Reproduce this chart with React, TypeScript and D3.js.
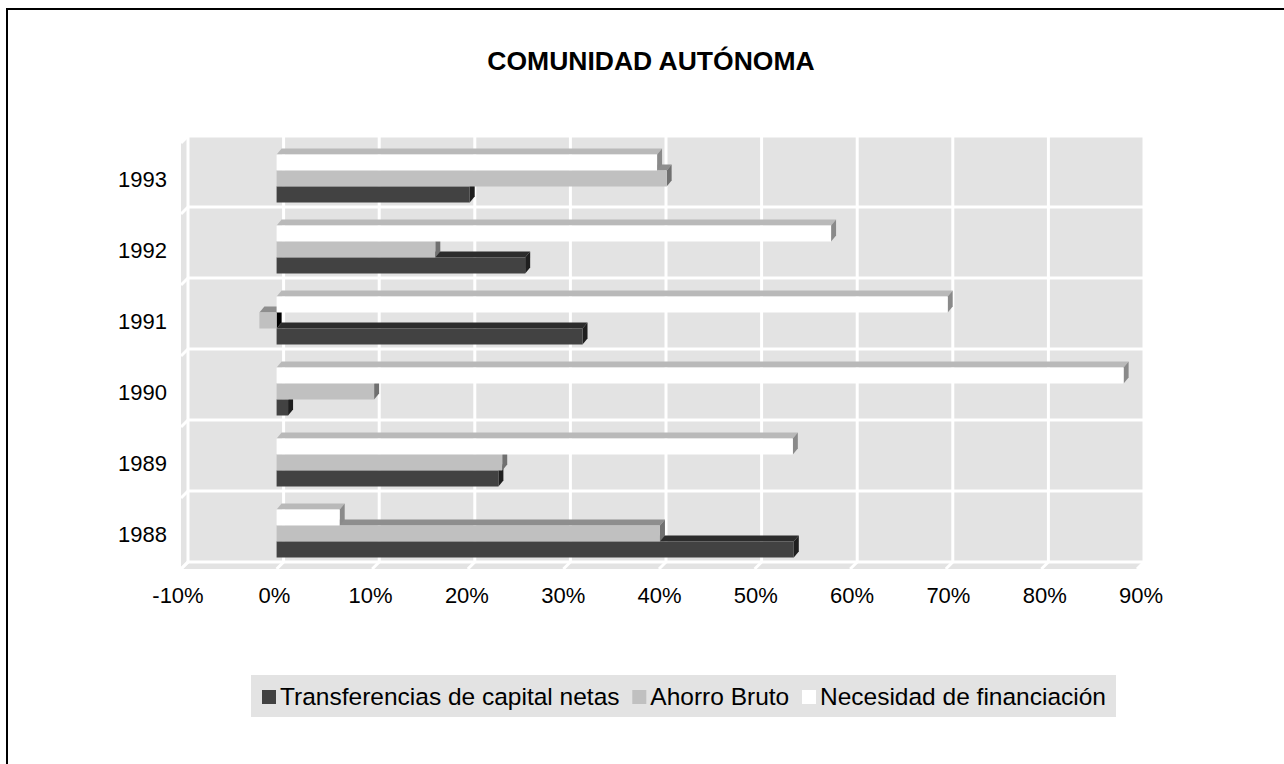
import { useEffect, useRef } from "react"
import * as d3 from "d3"

const categories = ["1988", "1989", "1990", "1991", "1992", "1993"]
const seriesNames = ["Transferencias de capital netas", "Ahorro Bruto", "Necesidad de financiación"]
const transferencias = [54.1, 23.2, 1.2, 32.0, 26.0, 20.2]
const ahorro = [40.1, 23.6, 10.2, -1.8, 16.6, 40.8]
const necesidad = [6.6, 54.0, 88.6, 70.2, 58.0, 39.8]
const tickValues = [-10, 0, 10, 20, 30, 40, 50, 60, 70, 80, 90]
const title = "COMUNIDAD AUTÓNOMA"

// front, top, side colours per series
const palette = [
  { front: "#424242", top: "#2c2c2c", side: "#1f1f1f" },
  { front: "#c0c0c0", top: "#8e8e8e", side: "#707070" },
  { front: "#ffffff", top: "#b9b9b9", side: "#8a8a8a" },
]

const App = () => {
  const svgRef = useRef(null)

  useEffect(() => {
    const width = 1284
    const height = 764
    const svg = d3.select(svgRef.current)
    svg.selectAll("*").remove()
    const font = "'Liberation Sans', Arial, sans-serif"

    const depthX = -7 // back -> front
    const depthY = 7
    const barDX = 5
    const barDY = -6
    const barH = 16

    const xFront = d3.scaleLinear().domain([-10, 90]).range([181, 1137])
    const xBack = (v) => xFront(v) - depthX
    const xLabel = d3.scaleLinear().domain([-10, 90]).range([178, 1141])
    const yFront = d3.scaleBand().domain([...categories].reverse()).range([143, 569])
    const yBack = (c) => yFront(c) - depthY
    const seriesOrder = [2, 1, 0] // top to bottom within a group
    const ySub = d3.scaleBand().domain(seriesOrder.map(String)).range([0, barH * 3])
    const values = [transferencias, ahorro, necesidad]

    svg.append("rect").attr("width", width).attr("height", height).attr("fill", "#fff")
    svg.append("rect").attr("x", 7).attr("y", 9).attr("width", width + 20).attr("height", height + 20)
      .attr("fill", "none").attr("stroke", "#000").attr("stroke-width", 2)

    svg.append("text").attr("x", 651).attr("y", 70).attr("text-anchor", "middle")
      .style("font-family", font).style("font-weight", "bold").style("font-size", "26.5px")
      .text(title)

    const wallTop = yFront.range()[0] - depthY
    const wallBottom = yFront.range()[1] - depthY
    const wallLeft = xBack(-10)
    const wallRight = xBack(90)
    const grid = "#ffffff"
    const wallFill = "#e3e3e3"

    // back wall
    svg.append("rect").attr("x", wallLeft).attr("y", wallTop)
      .attr("width", wallRight - wallLeft).attr("height", wallBottom - wallTop).attr("fill", wallFill)
    // left wall
    svg.append("polygon").attr("points", [
      [wallLeft, wallTop], [wallLeft + depthX, wallTop + depthY],
      [wallLeft + depthX, wallBottom + depthY], [wallLeft, wallBottom]].join(" "))
      .attr("fill", wallFill)
    // floor
    svg.append("polygon").attr("points", [
      [wallLeft, wallBottom], [wallRight, wallBottom],
      [wallRight + depthX, wallBottom + depthY], [wallLeft + depthX, wallBottom + depthY]].join(" "))
      .attr("fill", wallFill)

    // vertical grid on wall + floor
    tickValues.forEach(t => {
      svg.append("line").attr("x1", xBack(t)).attr("x2", xBack(t))
        .attr("y1", wallTop).attr("y2", wallBottom).attr("stroke", grid).attr("stroke-width", 3)
      svg.append("line").attr("x1", xBack(t)).attr("x2", xFront(t))
        .attr("y1", wallBottom).attr("y2", wallBottom + depthY).attr("stroke", grid).attr("stroke-width", 3)
    })
    // horizontal grid on wall + left wall
    const bounds = [...categories.map(c => yBack(c)), wallBottom]
    bounds.forEach(y => {
      svg.append("line").attr("x1", wallLeft).attr("x2", wallRight)
        .attr("y1", y).attr("y2", y).attr("stroke", grid).attr("stroke-width", 3)
      svg.append("line").attr("x1", wallLeft).attr("x2", wallLeft + depthX)
        .attr("y1", y).attr("y2", y + depthY).attr("stroke", grid).attr("stroke-width", 3)
    })
    svg.append("line").attr("x1", wallLeft + depthX).attr("x2", wallRight + depthX)
      .attr("y1", wallBottom + depthY + 1).attr("y2", wallBottom + depthY + 1).attr("stroke", grid).attr("stroke-width", 2)

    // bars
    const bars = svg.append("g")
    categories.forEach((c, ci) => {
      const groupTop = yFront(c) + (yFront.bandwidth() - barH * 3) / 2
      ;[0, 1, 2].forEach(si => {
        const v = values[si][ci]
        const xa = Math.min(xFront(0), xFront(v))
        const xb = Math.max(xFront(0), xFront(v))
        const yt = groupTop + ySub(String(si))
        const col = palette[si]
        bars.append("polygon").attr("points", [
          [xa, yt], [xb, yt], [xb + barDX, yt + barDY], [xa + barDX, yt + barDY]].join(" "))
          .attr("fill", col.top)
        bars.append("polygon").attr("points", [
          [xb, yt], [xb + barDX, yt + barDY], [xb + barDX, yt + barH + barDY], [xb, yt + barH]].join(" "))
          .attr("fill", v < 0 ? "#000" : col.side)
        bars.append("rect").attr("x", xa).attr("y", yt).attr("width", xb - xa).attr("height", barH)
          .attr("fill", col.front)
      })
    })

    // axis labels
    svg.append("g").selectAll("text").data(tickValues).join("text")
      .attr("x", d => xLabel(d)).attr("y", 603).attr("text-anchor", "middle")
      .style("font-family", font).style("font-size", "22px")
      .text(d => d + "%")
    svg.append("g").selectAll("text").data(categories).join("text")
      .attr("x", 167).attr("y", d => yFront(d) + yFront.bandwidth() / 2 + 8)
      .attr("text-anchor", "end")
      .style("font-family", font).style("font-size", "22px")
      .text(d => d)

    // legend, spread so it fills the box
    const legend = svg.append("g")
    legend.append("rect").attr("x", 251).attr("y", 675).attr("width", 865).attr("height", 42).attr("fill", wallFill)
    const items = seriesNames.map((name, i) => {
      const sw = legend.append("rect").attr("y", 690).attr("width", 14).attr("height", 14)
        .attr("fill", palette[i].front)
      const t = legend.append("text").attr("y", 705)
        .style("font-family", font).style("font-size", "24.5px").text(name)
      return { sw, t, w: t.node().getComputedTextLength() }
    })
    const start = 262
    const end = 1106
    const used = d3.sum(items, d => 18 + d.w)
    const gap = (end - start - used) / (items.length - 1)
    let lx = start
    items.forEach(d => {
      d.sw.attr("x", lx)
      d.t.attr("x", lx + 18)
      lx += 18 + d.w + gap
    })
  }, [])

  return (
    <div style={{ position: "absolute", left: 0, top: 0 }}>
      <svg ref={svgRef} width={1284} height={764} style={{ display: "block" }} />
    </div>
  )
}

export default App
